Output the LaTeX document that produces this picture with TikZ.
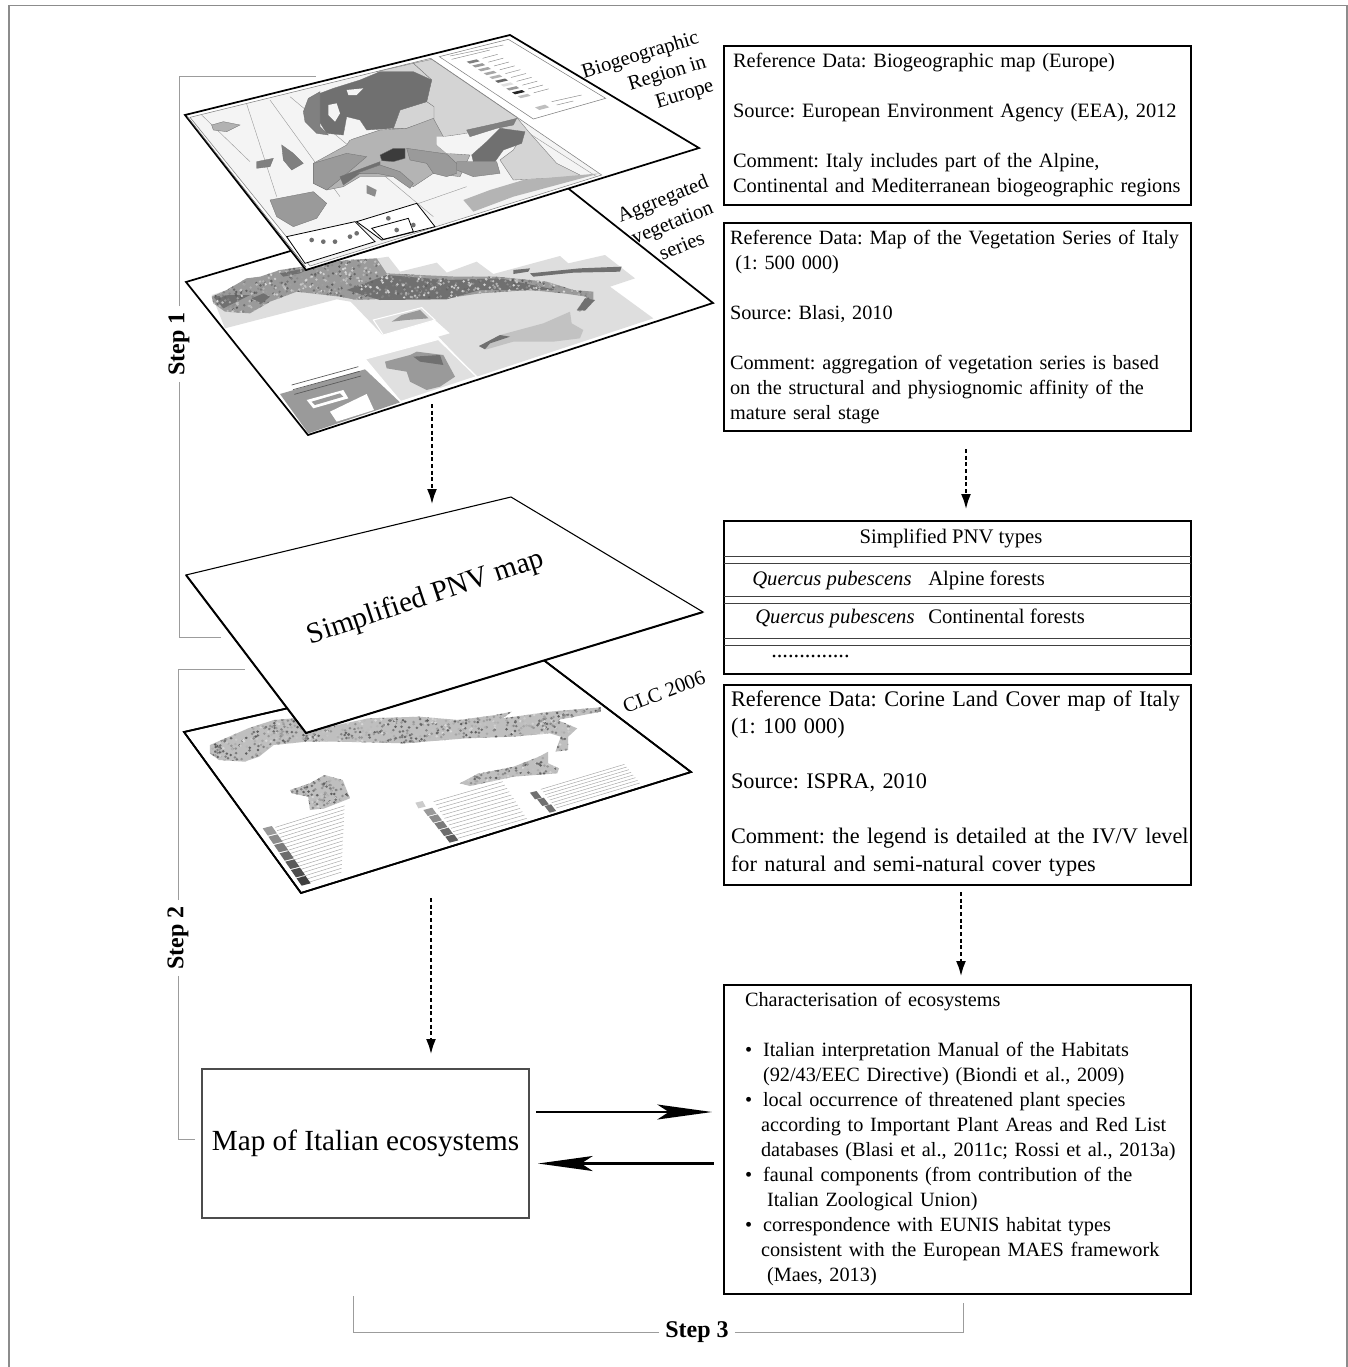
\documentclass[tikz,border=0pt]{standalone}
\usepackage{fontspec}
\setmainfont{Liberation Serif}
\usetikzlibrary{arrows.meta, positioning, calc}
\definecolor{mapsea}{HTML}{F4F4F4}
\definecolor{maplight}{HTML}{D4D4D4}
\definecolor{mapmid}{HTML}{B4B4B4}
\definecolor{mapdim}{HTML}{9A9A9A}
\definecolor{mapdark}{HTML}{707070}
\definecolor{mapcore}{HTML}{3C3C3C}
\definecolor{bracketgray}{HTML}{9C9C9C}
\newcommand{\ecobullet}{•\hspace{8.25pt}}
\newcommand{\mapspeckle}[5]{\foreach \i in {1,...,#5}{\pgfmathsetmacro{\spx}{#1+rnd*(#2-#1)}\pgfmathsetmacro{\spy}{#3+rnd*(#4-#3)}\pgfmathtruncatemacro{\sps}{15+rnd*50}\fill[black!\sps] (\spx,\spy) circle (4);}}
\def\vegband{(95,170) -- (140,150) -- (200,115) -- (240,110) -- (300,90) -- (400,75) -- (500,60) -- (590,55) -- (620,100) -- (720,105) -- (830,110) -- (950,110) -- (1100,125) -- (1180,150) -- (1240,155) -- (1240,180) -- (1200,215) -- (1190,210) -- (1220,170) -- (1150,160) -- (1050,150) -- (900,160) -- (800,175) -- (650,175) -- (530,180) -- (480,170) -- (350,155) -- (270,185) -- (210,220) -- (135,215) -- (100,190) -- cycle}
\def\clcband{(165,375) -- (270,325) -- (340,300) -- (395,295) -- (430,335) -- (600,295) -- (740,290) -- (850,300) -- (950,285) -- (995,275) -- (970,295) -- (1100,275) -- (1240,262) -- (1240,275) -- (1120,300) -- (1175,325) -- (1150,350) -- (1150,390) -- (1115,395) -- (1130,350) -- (1100,340) -- (1000,350) -- (870,355) -- (700,370) -- (520,365) -- (430,365) -- (340,375) -- (300,410) -- (260,425) -- (190,420) -- (165,400) -- cycle}
\def\clcsicily{(852,490) -- (900,462) -- (1000,440) -- (1070,410) -- (1095,395) -- (1095,430) -- (1125,445) -- (1120,460) -- (1000,470) -- (880,498) -- cycle}
\def\clcsardinia{(385,510) -- (440,490) -- (480,465) -- (530,480) -- (550,535) -- (480,565) -- (440,570) -- (435,530) -- (390,520) -- cycle}

\begin{document}
\begin{tikzpicture}[
    x=0.75pt, y=-0.75pt,
    refbox/.style={rectangle, draw=black, line width=1.3pt, fill=white, outer sep=0pt, inner xsep=0pt, text width=350.25pt, align=left, font=\frenchspacing\fontsize{15.2}{18.75}\selectfont},
    typetext/.style={font=\frenchspacing\fontsize{15.5}{18.75}\selectfont, inner sep=0pt},
    sidetext/.style={font=\fontsize{15.4}{19}\selectfont, inner sep=0pt},
    steplabel/.style={font=\fontsize{18}{20}\selectfont\bfseries, inner sep=4.5pt},
    sheet/.style={draw=black, line width=1.3pt, fill=white, line join=miter},
    bracket/.style={draw=bracketgray, line width=0.75pt},
    rowline/.style={draw=black!75, line width=0.6pt},
    flowdash/.style={-{Latex[length=12pt,width=7.5pt]}, line width=2.2pt, dash pattern=on 3pt off 2pt},
    flowsolid/.style={-{Stealth[length=41pt,width=11.25pt,inset=8.6pt]}, line width=1.9pt},
    border/.style={draw=black!55, line width=0.25pt},
    legendline/.style={draw=black!45, line width=0.35pt}
]
\useasboundingbox (0,0) rectangle (1348,1367);
\pgfmathsetseed{41}

\draw[draw=black!45, line width=0.9pt] (9,1367) -- (9,5.5) -- (1347,5.5) -- (1347,1367);

\coordinate (vegwest) at (186,282);
\coordinate (vegnorth) at (550,174);
\coordinate (vegeast) at (713,303);
\coordinate (vegsouth) at (308,435);
\fill[white] (vegwest) -- (vegnorth) -- (vegeast) -- (vegsouth) -- cycle;
\begin{scope}[shift={(180,240)}, x=0.25pt, y=-0.25pt]
\fill[black!13] (135,265) -- (470,178) -- (512,185) -- (608,285) -- (765,240) -- (810,280) -- (775,290) -- (890,410) -- (1420,235) -- (1290,140) -- (1365,115) -- (1275,45) -- (1165,70) -- (1140,48) -- (940,102) -- (890,65) -- (800,98) -- (770,68) -- (660,95) -- (625,50) -- (590,55) -- (300,100) -- (95,165) -- cycle;
\fill[mapdim] \vegband;
\fill[mapdark] (500,150) -- (620,105) -- (800,120) -- (960,115) -- (1130,150) -- (900,150) -- (800,178) -- (600,180) -- cycle;
\fill[mapdark] (130,205) -- (210,165) -- (150,165) -- (100,170) -- cycle;
\fill[mapdark] (300,100) -- (400,80) -- (360,100) -- (310,110) -- cycle;
\begin{scope}
\clip \vegband;
\mapspeckle{95}{1240}{55}{220}{1500}
\end{scope}
\fill[mapdark] (215,175) -- (250,160) -- (270,170) -- (245,190) -- cycle;
\fill[mapdark] (1050,100) -- (1200,85) -- (1325,80) -- (1320,95) -- (1180,98) -- (1060,110) -- cycle;
\fill[mapdark] (1000,90) -- (1050,85) -- (1045,95) -- (1000,102) -- cycle;
\fill[mapdark] (1215,175) -- (1245,180) -- (1215,212) -- (1192,210) -- cycle;
\fill[black!12, draw=white, line width=0.8pt] (580,240) -- (725,203) -- (765,240) -- (610,285) -- cycle;
\fill[mapdim] (635,245) -- (665,225) -- (720,210) -- (745,235) -- (680,240) -- cycle;
\fill[black!12, draw=white, line width=1pt] (555,357) -- (775,298) -- (890,410) -- (662,485) -- cycle;
\fill[mapdim] (615,365) -- (690,345) -- (710,335) -- (790,345) -- (825,410) -- (780,440) -- (740,450) -- (690,425) -- (680,395) -- (620,385) -- cycle;
\fill[mapdark] (700,350) -- (780,345) -- (790,375) -- (720,365) -- cycle;
\fill[black!24] (897,320) -- (960,285) -- (1090,250) -- (1170,215) -- (1175,250) -- (1210,270) -- (1200,295) -- (1120,305) -- (1000,305) -- (920,328) -- cycle;
\fill[mapdark] (897,318) -- (960,285) -- (990,290) -- (930,310) -- (915,328) -- cycle;
\fill[mapdim] (300,462) -- (555,388) -- (660,487) -- (385,580) -- cycle;
\fill[white] (380,480) -- (490,450) -- (505,475) -- (400,505) -- cycle;
\fill[white] (450,515) -- (560,462) -- (582,510) -- (470,545) -- cycle;
\fill[mapdim] (395,485) -- (480,460) -- (490,470) -- (405,495) -- cycle;
\foreach \i in {0,1,2}
  \draw[draw=black!65, line width=0.5pt] ({335+\i*4},{435+\i*14}) -- ++(200,-55);
\end{scope}
\path[sheet, fill=none] (vegwest) -- (vegnorth) -- (vegeast) -- (vegsouth) -- cycle;

\coordinate (eurowest) at (185,115);
\coordinate (euronorth) at (510,35);
\coordinate (euroeast) at (699,148);
\coordinate (eurosouth) at (306,270);
\path[sheet] (eurowest) -- (euronorth) -- (euroeast) -- (eurosouth) -- cycle;
\begin{scope}[shift={(180,30)}, x=0.25pt, y=-0.25pt]
\fill[mapsea, draw=black!50, line width=0.4pt] (30,262) -- (752,85) -- (1265,435) -- (390,708) -- cycle;
\draw[draw=black!60, line width=0.5pt] (22,260) -- (378,712);
\draw[draw=black!40, line width=0.3pt] (200,222) -- (290,500) (65,255) -- (210,395) (270,210) -- (480,500) (330,200) -- (760,560) (720,100) -- (1250,440) (430,620) -- (860,470);
\fill[maplight, border] (700,100) -- (755,88) -- (1010,262) -- (1050,310) -- (1130,400) -- (1210,440) -- (1000,450) -- (960,390) -- (1000,360) -- (1030,310) -- (940,290) -- (860,310) -- (790,320) -- (760,300) -- (760,230) -- (740,215) -- (755,150) -- cycle;
\fill[maplight, border] (590,125) -- (700,100) -- (755,150) -- (600,130) -- cycle;
\fill[maplight, border] (640,295) -- (660,240) -- (740,215) -- (762,230) -- (762,268) -- (680,295) -- cycle;
\fill[mapmid, border] (400,400) -- (500,345) -- (510,330) -- (600,300) -- (680,295) -- (760,265) -- (790,320) -- (770,345) -- (800,370) -- (870,375) -- (840,440) -- (760,430) -- (700,470) -- (640,440) -- (540,440) -- (490,470) -- (440,480) -- (400,460) -- cycle;
\fill[mapdark, border] (420,190) -- (460,175) -- (540,150) -- (600,125) -- (700,125) -- (755,150) -- (740,215) -- (660,240) -- (640,295) -- (560,300) -- (540,270) -- (500,260) -- (490,315) -- (440,310) -- (415,270) -- cycle;
\fill[black!50, border] (370,245) -- (385,205) -- (420,185) -- (420,290) -- (445,315) -- (410,310) -- (375,275) -- cycle;
\fill[mapsea] (445,225) -- (470,220) -- (480,250) -- (465,275) -- (445,255) -- cycle;
\fill[mapsea] (500,180) -- (550,175) -- (530,195) -- (505,195) -- cycle;
\fill[mapsea] (495,310) -- (530,275) -- (550,300) -- (510,330) -- cycle;
\fill[mapsea] (770,320) -- (810,320) -- (920,300) -- (950,300) -- (910,335) -- (870,370) -- (800,370) -- (770,345) -- cycle;
\fill[black!50, border] (860,300) -- (950,280) -- (1010,265) -- (1000,285) -- (950,295) -- (870,320) -- cycle;
\fill[mapdark, border] (875,375) -- (920,335) -- (960,295) -- (1035,305) -- (1025,340) -- (970,360) -- (945,395) -- (880,395) -- cycle;
\fill[mapdim, border] (830,395) -- (880,395) -- (950,395) -- (960,430) -- (880,440) -- (830,420) -- cycle;
\fill[mapdim, border] (680,355) -- (800,372) -- (830,400) -- (830,430) -- (800,440) -- (760,430) -- (740,400) -- (690,390) -- cycle;
\fill[mapdim, border] (400,400) -- (500,370) -- (560,380) -- (490,440) -- (440,480) -- (400,460) -- cycle;
\fill[mapdark, border] (480,440) -- (600,395) -- (600,410) -- (540,430) -- (490,465) -- cycle;
\fill[mapdim, border] (530,430) -- (600,405) -- (660,425) -- (700,460) -- (690,475) -- (640,440) -- (590,430) -- cycle;
\fill[mapcore, border] (600,375) -- (640,355) -- (675,355) -- (675,385) -- (640,395) -- (605,392) -- cycle;
\fill[mapdim, border] (270,510) -- (400,485) -- (440,520) -- (410,565) -- (340,590) -- (290,560) -- cycle;
\fill[black!50, border] (305,345) -- (340,370) -- (370,400) -- (335,420) -- (310,390) -- cycle;
\fill[black!50, border] (230,395) -- (280,385) -- (270,410) -- (230,415) -- cycle;
\fill[black!30, border] (95,285) -- (130,275) -- (180,285) -- (140,305) -- (100,300) -- cycle;
\fill[black!45] (560,465) -- (590,480) -- (585,500) -- (560,490) -- cycle;
\fill[mapmid] (850,510) -- (930,480) -- (1030,450) -- (1260,430) -- (1000,500) -- (880,545) -- cycle;
\fill[white, draw=black, line width=0.6pt] (320,620) -- (525,575) -- (585,635) -- (375,700) -- cycle;
\fill[white, draw=black, line width=0.6pt] (530,575) -- (710,520) -- (765,590) -- (605,630) -- cycle;
\fill[white, draw=black, line width=0.6pt] (575,595) -- (685,565) -- (700,605) -- (610,628) -- cycle;
\foreach \px/\py in {395/630, 430/635, 465/635, 510/620, 530/610, 625/565, 650/600, 700/585}
  \fill[mapdark] (\px,\py) circle (7);
\fill[white, draw=black!50, line width=0.4pt] (778,80) -- (985,28) -- (1277,205) -- (1060,267) -- cycle;
\draw[legendline] (810,78) -- (970,45) (815,88) -- (930,60);
\foreach \i/\shade in {0/50, 1/40, 2/35, 3/35, 4/30, 5/60, 6/12, 7/40, 8/85, 9/25}
  \fill[black!\shade] ({860+17*\i},{95+11.5*\i}) -- ++(30,-7) -- ++(9,6) -- ++(-30,7) -- cycle;
\foreach \i in {0,...,9}
  \draw[legendline] ({908+17*\i},{85+11.5*\i}) -- ++(45,-12);
\fill[black!25] (1065,232) -- (1095,224) -- (1108,232) -- (1078,240) -- cycle;
\draw[legendline] (1115,215) -- (1205,195) (1130,225) -- (1180,213);
\end{scope}

\coordinate (clcwest) at (184,732);
\coordinate (clcnorth) at (533,652);
\coordinate (clceast) at (691,772);
\coordinate (clcsouth) at (301,893);
\path[sheet] (clcwest) -- (clcnorth) -- (clceast) -- (clcsouth) -- cycle;
\begin{scope}[shift={(150,620)}, x=0.2727pt, y=-0.25pt]
\fill[black!25] \clcband;
\fill[black!25] \clcsicily;
\fill[black!25] \clcsardinia;
\begin{scope}
\clip \clcband;
\mapspeckle{165}{1240}{262}{425}{1500}
\end{scope}
\begin{scope}
\clip \clcsicily;
\mapspeckle{852}{1125}{395}{498}{250}
\end{scope}
\begin{scope}
\clip \clcsardinia;
\mapspeckle{385}{550}{465}{570}{180}
\end{scope}
\foreach \i in {0,...,17}
  \draw[legendline, draw=black!35] ({345+\i*4.5},{622+\i*10}) -- ++({190-\i*5},{-0.34*(190-\i*5)});
\foreach \i in {0,...,6}
  \fill[black!\i0!mapdim] ({310+\i*15.5},{625+\i*25}) -- ++(25,-7) -- ++(14,22) -- ++(-25,7) -- cycle;
\foreach \i in {0,...,11}
  \draw[legendline, draw=black!35] ({780+\i*6},{545+\i*10}) -- ++(190,-60);
\foreach \i in {0,1,2,3,4}
  \fill[black!\i0!mapdim] ({752+\i*15},{570+\i*20}) -- ++(24,-7) -- ++(12,18) -- ++(-24,7) -- cycle;
\fill[black!20] (730,548) -- (750,543) -- (758,560) -- (738,565) -- cycle;
\foreach \i in {0,...,7}
  \draw[legendline, draw=black!35] ({1075+\i*6},{508+\i*8}) -- ++(230,-75);
\foreach \i in {0,1,2}
  \fill[mapdark] ({1045+\i*20},{518+\i*20}) -- ++(18,-5) -- ++(14,20) -- ++(-18,5) -- cycle;
\end{scope}
\path[sheet, fill=none] (clcwest) -- (clcnorth) -- (clceast) -- (clcsouth) -- cycle;

\coordinate (pnvwest) at (186,575);
\coordinate (pnvnorth) at (511,497);
\coordinate (pnveast) at (703,612);
\coordinate (pnvsouth) at (306,733);
\path[sheet, line width=0.8pt] (pnvwest) -- (pnvnorth) -- (pnveast) -- (pnvsouth) -- cycle;
\draw[line width=1.5pt, line join=miter] (pnvwest) -- (pnvsouth) -- (pnveast);

\node[sidetext, rotate=17, align=right] (biogeolabel) at (648,80) {Biogeographic\\Region in\\Europe\hspace{-5pt}};
\node[sidetext, rotate=22, align=center] (veglabel) at (672,222) {Aggregated\\vegetation\\series};
\node[sidetext, rotate=21] (clclabel) at (664,692) {CLC 2006};
\node[inner sep=0pt, rotate=18.5, font=\fontsize{22}{24}\selectfont] (pnvlabel) at (426,598) {Simplified PNV map};

\node[refbox, minimum height=119.25pt, font=\frenchspacing\fontsize{15.3}{18.75}\selectfont] (biogeo) at (957.5,125.5) {\leftskip=6.75pt Reference Data: Biogeographic map (Europe)\\[18.75pt]
Source: European Environment Agency (EEA), 2012\\[18.75pt]
Comment: Italy includes part of the Alpine,\\
Continental and Mediterranean biogeographic regions\par};
\node[refbox, minimum height=156pt, below=13.5pt of biogeo] (vegseries) {\leftskip=4.5pt Reference Data: Map of the Vegetation Series of Italy\\
\hspace*{4pt}(1: 500 000)\\[18.75pt]
Source: Blasi, 2010\\[18.75pt]
Comment: aggregation of vegetation series is based\\
on the structural and physiognomic affinity of the\\
mature seral stage\par};
\node[refbox, minimum height=114.75pt, below=67.5pt of vegseries] (pnvtypes) {};
\node[refbox, minimum height=150pt, below=8.25pt of pnvtypes, font=\frenchspacing\fontsize{16.7}{20.6}\selectfont] (corine) {\leftskip=5.25pt Reference Data: Corine Land Cover map of Italy\\
(1: 100 000)\\[20.6pt]
Source: ISPRA, 2010\\[20.6pt]
Comment: the legend is detailed at the IV/V level\\
for natural and semi-natural cover types\rule[-6pt]{0pt}{0pt}\par};
\node[refbox, minimum height=231.75pt, below=75pt of corine] (ecochar) {\leftskip=15.75pt Characterisation of ecosystems\\[18.75pt]
\ecobullet Italian interpretation Manual of the Habitats\\
\hspace*{13.5pt}(92/43/EEC Directive) (Biondi et al., 2009)\\
\ecobullet local occurrence of threatened plant species\\
\hspace*{12pt}according to Important Plant Areas and Red List\\
\hspace*{12pt}databases (Blasi et al., 2011c; Rossi et al., 2013a)\\
\ecobullet faunal components (from contribution of the\\
\hspace*{16.5pt}Italian Zoological Union)\\
\ecobullet correspondence with EUNIS habitat types\\
\hspace*{12pt}consistent with the European MAES framework\\
\hspace*{16.5pt}(Maes, 2013)\rule[-3pt]{0pt}{0pt}\par};

\node[typetext, anchor=base] (typehead) at (951,543) {Simplified PNV types};
\node[typetext, anchor=base west] (quercusa) at (752,585) {\itshape Quercus pubescens};
\node[typetext, anchor=base west] (alpine) at (928,585) {Alpine forests};
\node[typetext, anchor=base west] (quercusb) at (755,623) {\itshape Quercus pubescens};
\node[typetext, anchor=base west] (continental) at (928,623) {Continental forests};
\node[typetext, anchor=base west, font=\fontsize{16.8}{18.75}\selectfont] (typedots) at (771,657) {..............};
\draw[rowline] ([shift={(0,35.5)}]pnvtypes.north west) -- ([shift={(0,35.5)}]pnvtypes.north east);
\draw[rowline] ([shift={(0,42)}]pnvtypes.north west) -- ([shift={(0,42)}]pnvtypes.north east);
\draw[rowline] ([shift={(0,75.5)}]pnvtypes.north west) -- ([shift={(0,75.5)}]pnvtypes.north east);
\draw[rowline] ([shift={(0,82)}]pnvtypes.north west) -- ([shift={(0,82)}]pnvtypes.north east);
\draw[rowline] ([shift={(0,117)}]pnvtypes.north west) -- ([shift={(0,117)}]pnvtypes.north east);
\draw[rowline] ([shift={(0,124)}]pnvtypes.north west) -- ([shift={(0,124)}]pnvtypes.north east);

\node[rectangle, draw=black!70, line width=1pt, outer sep=0pt, minimum width=245.25pt, minimum height=111.75pt, text depth=5.5pt, font=\fontsize{21.9}{26}\selectfont] (italymap) at (365.5,1143.5) {Map of Italian ecosystems};

\coordinate (vegfoot) at (432,404);
\coordinate (pnvhead) at (432,505);
\coordinate (clcfoot) at (431,898);
\draw[flowdash] (vegfoot) -- (pnvhead);
\draw[flowdash] ([shift={(8.5,18)}]vegseries.south) -- ([shift={(8.5,-11)}]pnvtypes.north);
\draw[flowdash] (clcfoot) -- ([shift={(65.5,-14)}]italymap.north);
\draw[flowdash] ([shift={(3.5,7)}]corine.south) -- ([shift={(3.5,-8)}]ecochar.north);
\draw[flowsolid] ([shift={(7,-31.5)}]italymap.east) -- ([shift={(-12,-27.5)}]ecochar.west);
\draw[flowsolid] ([shift={(-10.5,24)}]ecochar.west) -- ([shift={(9,20)}]italymap.east);

\node[steplabel, rotate=90] (stepone) at (179,344) {Step 1};
\node[steplabel, rotate=90] (steptwo) at (178,938) {Step 2};
\node[steplabel] (stepthree) at (697,1332) {Step 3};
\coordinate (steponetop) at (316,76);
\coordinate (steponefoot) at (221,637.5);
\coordinate (steptwotop) at (245,669);
\coordinate (steptwofoot) at (195,1139);
\coordinate (stepthreeleft) at (353.5,1296);
\coordinate (stepthreeright) at (963,1303);
\draw[bracket] (stepone.east) |- (steponetop);
\draw[bracket] (stepone.west) |- (steponefoot);
\draw[bracket] (steptwo.east) |- (steptwotop);
\draw[bracket] (steptwo.west) |- (steptwofoot);
\draw[bracket] (stepthree.west) -| (stepthreeleft);
\draw[bracket] (stepthree.east) -| (stepthreeright);
\end{tikzpicture}
\end{document}
